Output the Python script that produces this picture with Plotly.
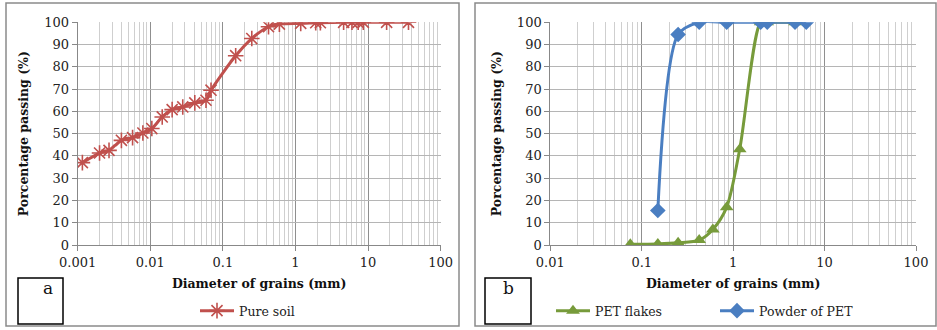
import plotly.graph_objects as go

# ---------------- data ----------------
soil_d = [0.00116, 0.002, 0.0027, 0.004, 0.0057, 0.0079, 0.0105, 0.0146, 0.02, 0.028,
          0.041, 0.0585, 0.0686, 0.15, 0.25, 0.425, 0.6, 1.18, 1.9, 2.2, 4.6, 6.0,
          7.3, 8.6, 18.0, 36.0]
soil_p = [37.0, 41.3, 42.5, 47.0, 48.2, 50.3, 52.3, 57.5, 60.8, 62.0,
          63.8, 65.0, 69.5, 85.0, 92.7, 98.0, 99.2, 99.5, 99.8, 99.8, 100, 100,
          100, 100, 100, 100]

flakes_d = [0.075, 0.15, 0.25, 0.425, 0.6, 0.85, 1.18, 2.0, 2.36, 4.75]
flakes_p = [0.3, 0.5, 1.0, 2.2, 7.0, 17.0, 43.0, 100, 100, 100]

powder_d = [0.15, 0.25, 0.425, 0.85, 2.0, 2.36, 4.75, 6.3]
powder_p = [15.5, 94.5, 100, 100, 100, 100, 100, 100]

x_ticks_a = [0.001, 0.01, 0.1, 1, 10, 100]
x_labels_a = ["0.001", "0.01", "0.1", "1", "10", "100"]
x_ticks_b = [0.01, 0.1, 1, 10, 100]
x_labels_b = ["0.01", "0.1", "1", "10", "100"]
y_ticks = [0, 10, 20, 30, 40, 50, 60, 70, 80, 90, 100]

# ---------------- style ----------------
W, H = 937, 330
SERIF = "DejaVu Serif"
RED = "#C0504D"
GREEN = "#779B3B"
BLUE = "#4A7EC1"


def px(x):
    return x / W


def py(y):
    return 1 - y / H


def minor_vals(lo, hi):
    vals = []
    for e in range(lo, hi):
        for m in range(2, 10):
            vals.append(m * 10 ** e)
    return vals


fig = go.Figure()

fig.add_trace(go.Scatter(
    x=soil_d, y=soil_p, mode="lines+markers", name="Pure soil",
    line=dict(color=RED, width=3, shape="spline", smoothing=0.8),
    marker=dict(symbol="asterisk-open", size=13, line=dict(color=RED, width=1.6)),
    xaxis="x", yaxis="y", legend="legend"))

fig.add_trace(go.Scatter(
    x=flakes_d, y=flakes_p, mode="lines+markers", name="PET flakes",
    line=dict(color=GREEN, width=3, shape="spline", smoothing=0.8),
    marker=dict(symbol="triangle-up", size=12, color=GREEN),
    xaxis="x2", yaxis="y2", legend="legend2"))

fig.add_trace(go.Scatter(
    x=powder_d, y=powder_p, mode="lines+markers", name="Powder of PET",
    line=dict(color=BLUE, width=3, shape="spline", smoothing=0.8),
    marker=dict(symbol="diamond", size=12, color=BLUE),
    xaxis="x2", yaxis="y2", legend="legend2"))

tickfont = dict(family=SERIF, size=13, color="#222")
titlefont = dict(family=SERIF, size=12.5, color="#111", weight="bold")


def xaxis(dom, lo, hi, tv, tt):
    return dict(
        domain=dom, type="log", range=[lo, hi], automargin=False,
        tickvals=tv, ticktext=tt, tickfont=tickfont,
        ticks="outside", ticklen=5, tickcolor="#888",
        showgrid=True, gridcolor="#8f8f8f", gridwidth=1,
        minor=dict(tickvals=minor_vals(lo, hi), showgrid=True,
                   gridcolor="#cfcfcf", gridwidth=1, ticks=""),
        showline=True, linecolor="#888", linewidth=1,
        zeroline=False,
        title=dict(text="Diameter of grains (mm)", font=titlefont, standoff=10),
    )


def yaxis(dom, anchor):
    return dict(
        domain=dom, range=[0, 100], tickvals=y_ticks, tickfont=tickfont, automargin=False,
        ticks="outside", ticklen=5, tickcolor="#888",
        showgrid=True, gridcolor="#b5b5b5", gridwidth=1,
        showline=True, linecolor="#888", linewidth=1,
        zeroline=False, anchor=anchor,
        title=dict(text="Porcentage passing (%)", font=titlefont, standoff=12),
    )


ydom = [py(245.0), py(22.3)]
legfont = dict(family=SERIF, size=12.5, color="#222")

fig.update_layout(
    width=W, height=H, margin=dict(l=0, r=0, t=0, b=0, autoexpand=False),
    paper_bgcolor="white", plot_bgcolor="white",
    font=dict(family=SERIF, color="#222"),
    xaxis=xaxis([px(77.7), px(440.7)], -3, 2, x_ticks_a, x_labels_a) | dict(anchor="y"),
    yaxis=yaxis(ydom, "x"),
    xaxis2=xaxis([px(550.3), px(916)], -2, 2, x_ticks_b, x_labels_b) | dict(anchor="y2"),
    yaxis2=yaxis(ydom, "x2"),
    legend=dict(orientation="h", x=px(195), y=py(296), xanchor="left", yanchor="top",
                font=legfont, bgcolor="rgba(0,0,0,0)", itemwidth=34),
    legend2=dict(orientation="h", x=px(551), y=py(296), xanchor="left", yanchor="top",
                 font=legfont, bgcolor="rgba(0,0,0,0)", itemwidth=34,
                 entrywidth=115, entrywidthmode="pixels"),
    showlegend=True,
)

# panel frames and letter boxes
shapes = [
    dict(type="rect", xref="paper", yref="paper", x0=px(6), x1=px(459), y0=py(326), y1=py(3),
         line=dict(color="#8a8a8a", width=1.5)),
    dict(type="rect", xref="paper", yref="paper", x0=px(475), x1=px(936), y0=py(326), y1=py(3),
         line=dict(color="#8a8a8a", width=1.5)),
    dict(type="rect", xref="paper", yref="paper", x0=px(18), x1=px(63), y0=py(324), y1=py(278),
         line=dict(color="black", width=1.5)),
    dict(type="rect", xref="paper", yref="paper", x0=px(485), x1=px(531), y0=py(324), y1=py(278),
         line=dict(color="black", width=1.5)),
]
fig.update_layout(shapes=shapes)
fig.add_annotation(x=px(40.5), y=py(300), xref="paper", yref="paper", text="a",
                   showarrow=False, font=dict(family=SERIF, size=17, color="#111"))
fig.add_annotation(x=px(508), y=py(300), xref="paper", yref="paper", text="b",
                   showarrow=False, font=dict(family=SERIF, size=17, color="#111"))

fig.write_html("out.html")
